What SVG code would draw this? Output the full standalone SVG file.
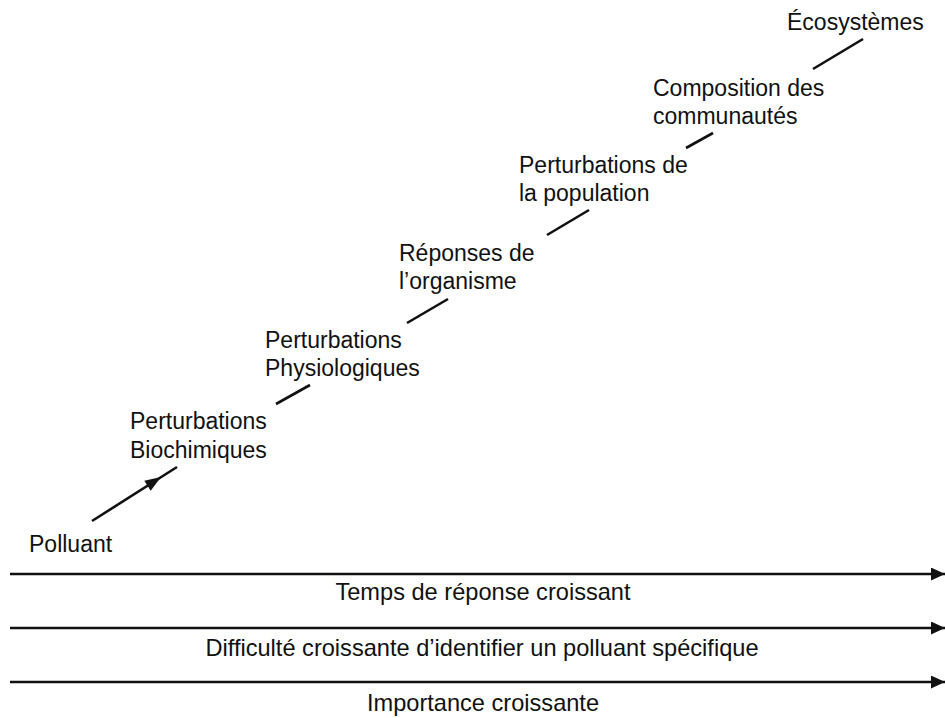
<svg xmlns="http://www.w3.org/2000/svg" width="945" height="718" viewBox="0 0 945 718">
<defs>
<style>
text{font-family:"Liberation Sans",Arial,sans-serif;font-size:23px;fill:#111}
.c{text-anchor:middle;font-size:23.6px}
.seg{stroke:#111;stroke-width:2.6;fill:none;stroke-linecap:butt}
.ax{stroke:#111;stroke-width:2.6;fill:none}
</style>
<marker id="ah" viewBox="0 0 14 13" refX="14" refY="6.5" markerWidth="14" markerHeight="13" markerUnits="userSpaceOnUse" orient="auto">
<path d="M0,0 L14,6.5 L0,13 Z" fill="#111"/>
</marker>
</defs>
<rect width="945" height="718" fill="#fff"/>
<g id="connectors">
<line class="seg" x1="92" y1="521" x2="177" y2="467" stroke-width="3"/>
<polygon points="161,477 144.3,480.7 150.7,490.7" fill="#111"/>
<line class="seg" x1="276" y1="404" x2="310" y2="385"/>
<line class="seg" x1="407" y1="323" x2="448" y2="299"/>
<line class="seg" x1="547" y1="235" x2="589" y2="210"/>
<line class="seg" x1="686" y1="148" x2="713" y2="133"/>
<line class="seg" x1="813" y1="69" x2="863" y2="39"/>
<line class="ax" x1="10" y1="574" x2="945" y2="574" marker-end="url(#ah)"/>
<line class="ax" x1="10" y1="628" x2="945" y2="628" marker-end="url(#ah)"/>
<line class="ax" x1="10" y1="682" x2="945" y2="682" marker-end="url(#ah)"/>
</g>
<g id="polluant"><text x="29" y="552">Polluant</text></g>
<g id="biochimiques"><text x="130" y="429">Perturbations</text><text x="130" y="458">Biochimiques</text></g>
<g id="physiologiques"><text x="265" y="348">Perturbations</text><text x="265" y="376">Physiologiques</text></g>
<g id="organisme"><text x="399" y="261">Réponses de</text><text x="399" y="289">l’organisme</text></g>
<g id="population"><text x="519" y="173">Perturbations de</text><text x="519" y="201">la population</text></g>
<g id="communautes"><text x="653" y="96">Composition des</text><text x="653" y="124">communautés</text></g>
<g id="ecosystemes"><text x="787" y="30">Écosystèmes</text></g>
<g id="axis-labels">
<text class="c" x="483" y="600">Temps de réponse croissant</text>
<text class="c" x="482" y="656">Difficulté croissante d’identifier un polluant spécifique</text>
<text class="c" x="483" y="711">Importance croissante</text>
</g>
</svg>
